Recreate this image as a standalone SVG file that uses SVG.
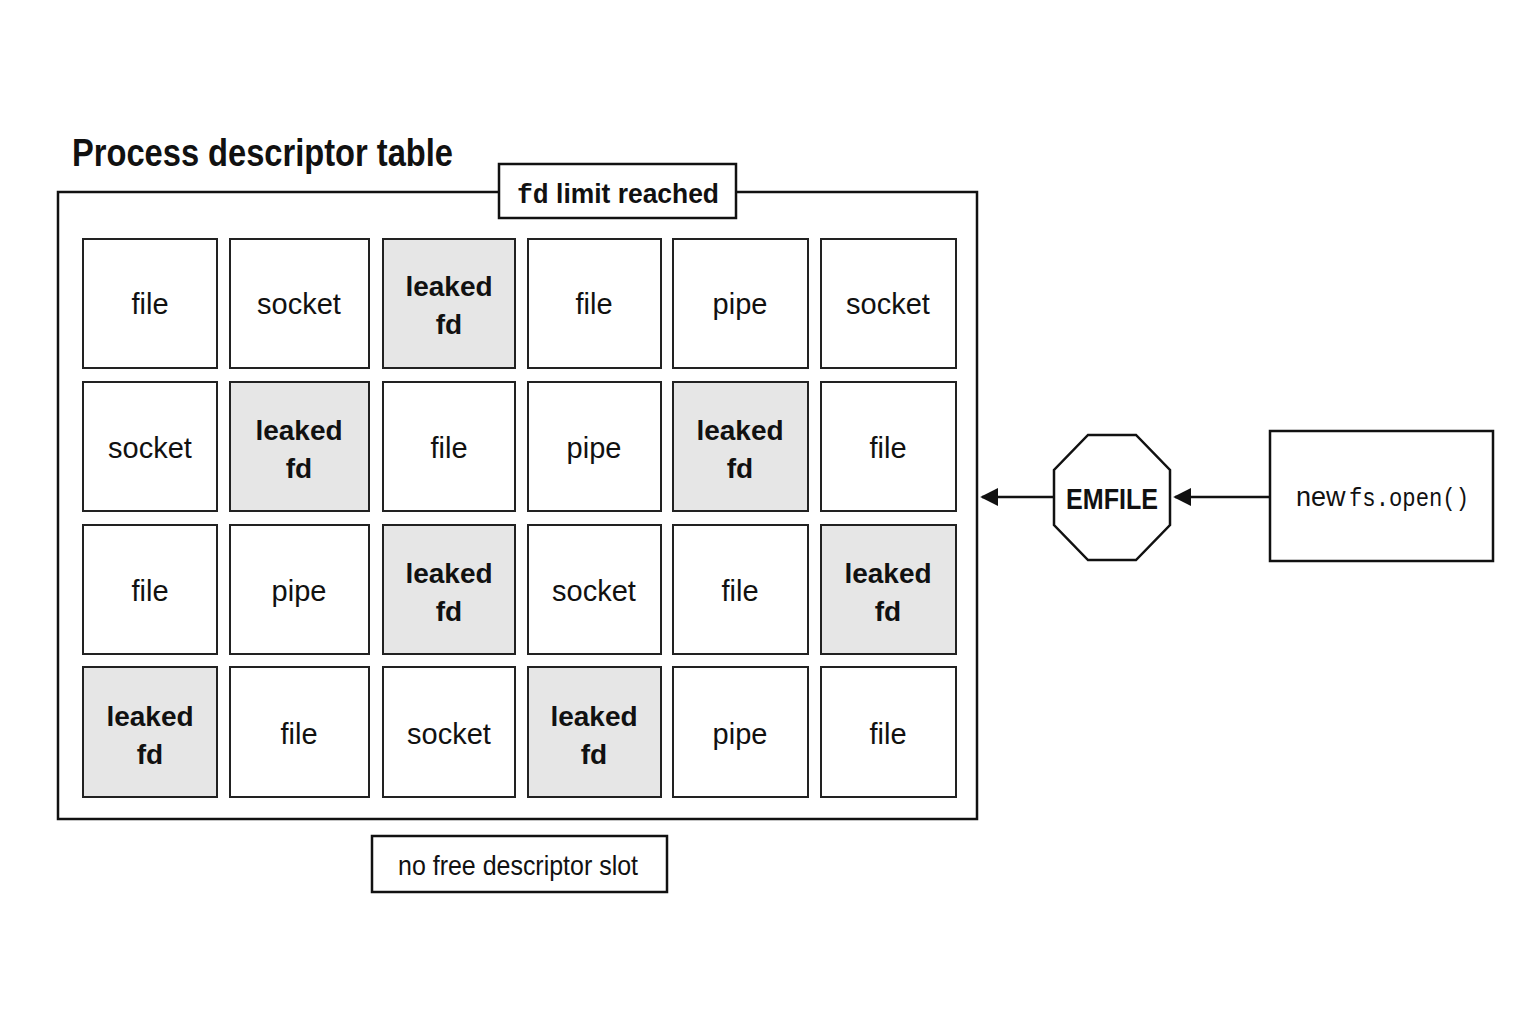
<svg xmlns="http://www.w3.org/2000/svg" width="1536" height="1024" viewBox="0 0 1536 1024">
<style>
text{font-family:"Liberation Sans",Arial,sans-serif;fill:#111;text-anchor:middle}
.c{fill:#fff;stroke:#222;stroke-width:2}
.l{fill:#e6e6e6;stroke:#222;stroke-width:2}
.t{font-size:29px}
.b{font-size:28px;font-weight:bold}
.m{font-family:"Liberation Mono","DejaVu Sans Mono",monospace}
</style>
<defs><marker id="a" viewBox="0 0 10 10" refX="9" refY="5" markerWidth="18" markerHeight="18" markerUnits="userSpaceOnUse" orient="auto"><path d="M0,0L10,5L0,10z" fill="#111"/></marker></defs>
<rect width="1536" height="1024" fill="#fff"/>
<text x="72" y="166" textLength="381" lengthAdjust="spacingAndGlyphs" style="font-size:38px;font-weight:bold;text-anchor:start">Process descriptor table</text>
<g id="table"><rect x="58" y="192" width="919" height="627" fill="none" stroke="#111" stroke-width="2.5"/></g>
<g id="limit"><rect x="499" y="164" width="237" height="54" fill="#fff" stroke="#111" stroke-width="2.5"/><text x="517" y="203" textLength="202" lengthAdjust="spacingAndGlyphs" style="font-size:28px;font-weight:bold;text-anchor:start"><tspan class="m">fd</tspan> limit reached</text></g>
<g id="noslot"><rect x="372" y="836" width="295" height="56" fill="#fff" stroke="#111" stroke-width="2.5"/><text x="398" y="875" textLength="240" lengthAdjust="spacingAndGlyphs" style="font-size:28px;text-anchor:start">no free descriptor slot</text></g>
<g id="r1">
<rect class="c" x="83" y="239" width="134" height="129"/><text class="t" x="150" y="314">file</text>
<rect class="c" x="230" y="239" width="139" height="129"/><text class="t" x="299" y="314">socket</text>
<rect class="l" x="383" y="239" width="132" height="129"/><text class="b" x="449" y="296">leaked</text><text class="b" x="449" y="334">fd</text>
<rect class="c" x="528" y="239" width="133" height="129"/><text class="t" x="594" y="314">file</text>
<rect class="c" x="673" y="239" width="135" height="129"/><text class="t" x="740" y="314">pipe</text>
<rect class="c" x="821" y="239" width="135" height="129"/><text class="t" x="888" y="314">socket</text>
</g>
<g id="r2">
<rect class="c" x="83" y="382" width="134" height="129"/><text class="t" x="150" y="458">socket</text>
<rect class="l" x="230" y="382" width="139" height="129"/><text class="b" x="299" y="440">leaked</text><text class="b" x="299" y="478">fd</text>
<rect class="c" x="383" y="382" width="132" height="129"/><text class="t" x="449" y="458">file</text>
<rect class="c" x="528" y="382" width="133" height="129"/><text class="t" x="594" y="458">pipe</text>
<rect class="l" x="673" y="382" width="135" height="129"/><text class="b" x="740" y="440">leaked</text><text class="b" x="740" y="478">fd</text>
<rect class="c" x="821" y="382" width="135" height="129"/><text class="t" x="888" y="458">file</text>
</g>
<g id="r3">
<rect class="c" x="83" y="525" width="134" height="129"/><text class="t" x="150" y="601">file</text>
<rect class="c" x="230" y="525" width="139" height="129"/><text class="t" x="299" y="601">pipe</text>
<rect class="l" x="383" y="525" width="132" height="129"/><text class="b" x="449" y="583">leaked</text><text class="b" x="449" y="621">fd</text>
<rect class="c" x="528" y="525" width="133" height="129"/><text class="t" x="594" y="601">socket</text>
<rect class="c" x="673" y="525" width="135" height="129"/><text class="t" x="740" y="601">file</text>
<rect class="l" x="821" y="525" width="135" height="129"/><text class="b" x="888" y="583">leaked</text><text class="b" x="888" y="621">fd</text>
</g>
<g id="r4">
<rect class="l" x="83" y="667" width="134" height="130"/><text class="b" x="150" y="726">leaked</text><text class="b" x="150" y="764">fd</text>
<rect class="c" x="230" y="667" width="139" height="130"/><text class="t" x="299" y="744">file</text>
<rect class="c" x="383" y="667" width="132" height="130"/><text class="t" x="449" y="744">socket</text>
<rect class="l" x="528" y="667" width="133" height="130"/><text class="b" x="594" y="726">leaked</text><text class="b" x="594" y="764">fd</text>
<rect class="c" x="673" y="667" width="135" height="130"/><text class="t" x="740" y="744">pipe</text>
<rect class="c" x="821" y="667" width="135" height="130"/><text class="t" x="888" y="744">file</text>
</g>
<g id="emfile"><polygon points="1088,435 1136,435 1170,470 1170,525 1136,560 1088,560 1054,525 1054,470" fill="#fff" stroke="#111" stroke-width="2.5"/><text x="1066" y="509" textLength="92" lengthAdjust="spacingAndGlyphs" style="font-size:30px;font-weight:bold;text-anchor:start">EMFILE</text></g>
<g id="open"><rect x="1270" y="431" width="223" height="130" fill="#fff" stroke="#111" stroke-width="2.5"/><text x="1296" y="506" style="font-size:27px;text-anchor:start">new</text><text class="m" x="1349" y="506" textLength="120" lengthAdjust="spacingAndGlyphs" style="font-size:26px;text-anchor:start">fs.open()</text></g>
<g id="connectors" stroke="#111" stroke-width="2.5">
<line x1="1270" y1="497" x2="1175" y2="497" marker-end="url(#a)"/>
<line x1="1054" y1="497" x2="982" y2="497" marker-end="url(#a)"/>
</g>
</svg>
